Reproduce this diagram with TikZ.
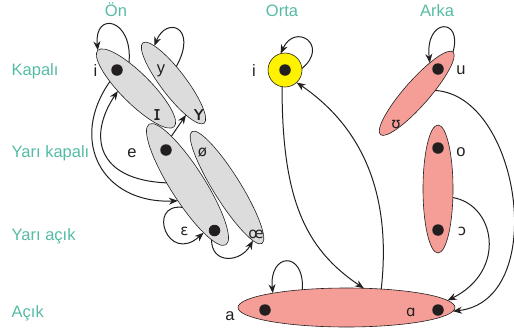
\documentclass[tikz,border=0pt]{standalone}
\usepackage{fontspec}
\setmainfont{Liberation Sans}
\newfontfamily\ipafont{DejaVu Sans}
\usepackage{xcolor}
\usepackage{tikz}
\usetikzlibrary{
  arrows.meta,
  shapes.geometric
}
\definecolor{vowelTeal}{HTML}{55BBA5}
\definecolor{vowelGray}{HTML}{DCDCDC}
\definecolor{vowelPink}{HTML}{F59E98}
\definecolor{vowelYellow}{HTML}{FFF200}
\definecolor{vowelLine}{HTML}{231F20}

\begin{document}
\begin{tikzpicture}[
  x=1pt, y=1pt,
  font=\fontsize{16.5}{19}\selectfont,
  heading/.style={text=vowelTeal, inner sep=0pt, anchor=base},
  rowlabel/.style={heading, anchor=base west},
  sound/.style={inner sep=0pt, text=vowelLine, anchor=base},
  ipa/.style={sound, font=\ipafont\fontsize{15}{17}\selectfont},
  ipabig/.style={sound, font=\ipafont\fontsize{20}{22}\selectfont},
  pair/.style={
    ellipse,
    draw=vowelLine,
    line width=0.6pt,
    inner sep=0pt,
    outer sep=0pt
  },
  frontpair/.style={pair, fill=vowelGray},
  backpair/.style={pair, fill=vowelPink},
  vdot/.style={circle, fill=vowelLine, inner sep=0pt, minimum size=11.5pt},
  arrow/.style={
    -{Stealth[length=9pt,width=7pt]},
    line width=1pt,
    draw=vowelLine
  }
]
\useasboundingbox (0,0) rectangle (514,-330);

% column and row headings
\node[heading] (colFront) at (116,-16.7) {Ön};
\node[heading] (colMid) at (282,-16) {Orta};
\node[heading] (colBack) at (437,-16) {Arka};

\node[rowlabel] (rowClose) at (11.5,-75.7) {Kapalı};
\node[rowlabel] (rowCloseMid) at (11.5,-157.3) {Yarı kapalı};
\node[rowlabel] (rowOpenMid) at (11.5,-240) {Yarı açık};
\node[rowlabel] (rowOpen) at (11.5,-317.3) {Açık};

% vowel pairs
\node[frontpair, minimum width=108pt, minimum height=30pt, rotate=-45] (ellI) at (136,-88.5) {};
\node[frontpair, minimum width=101pt, minimum height=25pt, rotate=-52.7] (ellY) at (173.5,-83) {};
\node[frontpair, minimum width=143pt, minimum height=34pt, rotate=-57.5] (ellE) at (187.5,-184.5) {};
\node[frontpair, minimum width=132pt, minimum height=27pt, rotate=-58] (ellOe) at (227,-187.5) {};
\node[circle, draw=vowelLine, line width=0.6pt, fill=vowelYellow, inner sep=0pt, outer sep=0pt, minimum size=34pt] (midCirc) at (285,-70) {};
\node[backpair, minimum width=110pt, minimum height=25pt, rotate=48.7] (ellU) at (416.7,-93.3) {};
\node[backpair, minimum width=128pt, minimum height=30pt, rotate=90] (ellO) at (438,-189) {};
\node[backpair, minimum width=217pt, minimum height=39pt] (ellA) at (346.5,-307.5) {};

% connectors
\draw[arrow] (ellI.150) .. controls +(4,44) and +(-4,40) .. (ellI.west);
\draw[arrow] (ellY.133) .. controls +(22,40) and +(12,30) .. (ellY.170);
\draw[arrow] (ellE.166) -- (ellY.-16);
\draw[arrow] (ellI.-150) .. controls +(-42,-60) and +(-75,-3) .. (ellE.-63);
\draw[arrow] (ellE.-127) .. controls +(-70,3) and +(-30,-45) .. (ellI.-127);
\draw[arrow] (ellE.-45) .. controls +(-36,4) and +(-36,-32) .. (ellE.-14);
\draw[arrow] (ellE.-9) .. controls +(0,-25) and +(-12,-22) .. (ellOe.-6);

\draw[arrow] (midCirc.5) .. controls +(28,23.5) and +(14.5,31.5) .. (midCirc.105);
\draw[arrow] (midCirc.-100) .. controls +(0,-110) and +(-60,40) .. (ellA.48);
\draw[arrow] (ellA.28) .. controls +(11,99) and +(63,-43) .. (midCirc.-47);

\draw[arrow] (ellU.east) .. controls +(10,35) and +(-5,45) .. (ellU.18);
\draw[arrow] (ellU.-40) .. controls +(85,-5) and +(97,11) .. (ellA.-2);
\draw[arrow] (ellO.-120) .. controls +(42,-7) and +(60,30) .. (ellA.4);
\draw[arrow] (ellA.158) .. controls +(2,40) and +(-4,40) .. (ellA.169);

% rounded vowels are unmarked, the others carry a dot
\node[vdot] (dotI) at (117,-70) {};
\node[vdot] (dotE) at (166,-150) {};
\node[vdot] (dotEps) at (214.5,-230.5) {};
\node[vdot] (dotMid) at (285,-70) {};
\node[vdot] (dotU) at (438,-69) {};
\node[vdot] (dotO) at (438,-148) {};
\node[vdot] (dotOpenO) at (438,-230) {};
\node[vdot] (dotA) at (265,-310) {};
\node[vdot] (dotAlpha) at (438,-310) {};

% vowel symbols
\node[sound] (lblI) at (95.5,-76.7) {i};
\node[sound] (lblY) at (161,-73.3) {y};
\node[ipabig] (lblNearI) at (157,-120) {ɪ};
\node[ipabig] (lblNearY) at (199,-120) {ʏ};
\node[sound] (lblE) at (132,-157) {e};
\node[ipa] (lblSlashO) at (202.5,-156) {ø};
\node[ipa] (lblEps) at (184.5,-235) {ɛ};
\node[ipa] (lblOeLig) at (256,-238) {œ};
\node[sound] (lblMidI) at (254,-76.7) {i};
\node[sound] (lblU) at (461,-74) {u};
\node[ipa] (lblUpsilon) at (396,-128) {ʊ};
\node[sound] (lblO) at (461,-156) {o};
\node[ipa] (lblOpenO) at (462,-235) {ɔ};
\node[sound] (lblA) at (230,-320) {a};
\node[ipa] (lblAlpha) at (411,-316.7) {ɑ};

\end{tikzpicture}
\end{document}
